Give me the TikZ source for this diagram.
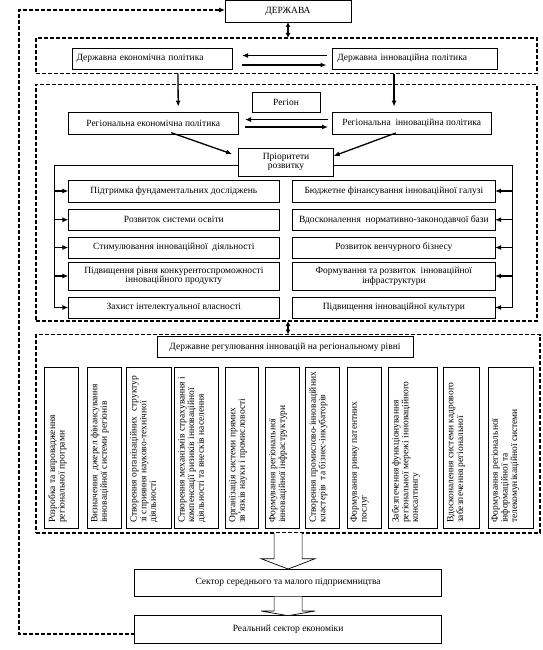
\documentclass[tikz,border=0pt]{standalone}
\usepackage{fontspec}
\setmainfont{Liberation Serif}
\usetikzlibrary{arrows.meta,calc}
\newcommand\fs{\fontsize{9.5}{9.6}\selectfont}
\begin{document}
\begin{tikzpicture}[x=1pt,y=-1pt,
  font=\fs,
  box/.style={draw, line width=0.7pt, fill=white, outer sep=0pt, inner sep=0pt, anchor=north west, align=center},
  dbox/.style={draw, line width=1.1pt, dash pattern=on 4pt off 2pt, outer sep=0pt, inner sep=0pt, anchor=north west},
  arr/.style={line width=1.3pt, -{Latex[length=6pt,width=5pt]}},
  darr/.style={line width=1.3pt, {Latex[length=5pt,width=5pt]}-{Latex[length=5pt,width=5pt]}},
  dline/.style={line width=1.1pt, dash pattern=on 4pt off 2pt},
  thinl/.style={line width=0.9pt},
  hollow/.style={draw, line width=0.7pt, fill=white},
  vtext/.style={rotate=90, anchor=north west, inner sep=0pt, align=left, font=\fs}
]
\useasboundingbox (0,0) rectangle (542,650);

% top
\node[box, minimum width=126pt, minimum height=21.5pt] (derzh) at (225,0.5) {ДЕРЖАВА};
\node[dbox, minimum width=501pt, minimum height=35.6pt] (b1) at (36,38) {};
\node[box, minimum width=160pt, minimum height=21pt, text width=151pt, align=left] (de) at (72,48) {Державна економічна політика};
\node[box, minimum width=164.5pt, minimum height=21pt, text width=155pt, align=left] (di) at (332.5,48) {Державна інноваційна політика};
\draw[arr] ($(di.west)+(-6,-3)$) -- ($(de.east)+(10,-3)$);
\draw[arr] ($(de.east)+(10,6.5)$) -- ($(di.west)+(-6,6.5)$);
\draw[darr] (derzh.south) -- (derzh.south |- b1.north);

% region block
\node[dbox, minimum width=501pt, minimum height=236.3pt] (b2) at (36,84.7) {};
\node[box, minimum width=68pt, minimum height=20pt] (reg) at (252,92) {Регіон};
\node[box, minimum width=169.6pt, minimum height=21.4pt] (re) at (68.4,112.6) {Регіональна економічна політика};
\node[box, minimum width=158.5pt, minimum height=21.4pt] (ri) at (332.5,112.6) {Регіональна\ \ інноваційна політика};
\draw[arr] ($(de.south |- b1.south)+(26,0)$) -- ($(re.north)+(25,-6)$);
\draw[arr] ($(di.south |- b1.south)+(-20.7,0)$) -- ($(ri.north)+(-17.7,-6)$);
\draw[arr] ($(ri.west)+(-4.5,-3.7)$) -- ($(re.east)+(7,-3.7)$);
\draw[arr] ($(re.east)+(7,3.7)$) -- ($(ri.west)+(-4.5,3.7)$);

\node[box, minimum width=95.1pt, minimum height=28pt] (pr) at (238.5,148) {Пріоритети\\розвитку};
\draw[arr] ($(re.south)+(18,-1.3)$) -- ($(pr.west)+(-6.5,-8)$);
\draw[arr] ($(ri.south)+(-16,-1)$) -- ($(pr.east)+(0,-6)$);

\node[box, minimum width=210.9pt, minimum height=22pt] (L1) at (68.4,180) {Підтримка фундаментальних досліджень};
\node[box, minimum width=202.2pt, minimum height=22pt] (R1) at (292.8,180) {Бюджетне фінансування інноваційної галузі};
\node[box, minimum width=210.9pt, minimum height=21.5pt] (L2) at (68.4,209) {Розвиток системи освіти};
\node[box, minimum width=202.2pt, minimum height=21.5pt] (R2) at (292.8,209) {Вдосконалення\ \ нормативно-законодавчої бази};
\node[box, minimum width=210.9pt, minimum height=21pt] (L3) at (68.4,237) {Стимулювання інноваційної\ \ діяльності};
\node[box, minimum width=202.2pt, minimum height=21pt] (R3) at (292.8,237) {Розвиток венчурного бізнесу};
\node[box, minimum width=210.9pt, minimum height=28pt] (L4) at (68.4,262) {Підвищення рівня конкурентоспроможності\\інноваційного продукту};
\node[box, minimum width=202.2pt, minimum height=28pt] (R4) at (292.8,262) {Формування та розвиток\ \ інноваційної\\інфраструктури};
\node[box, minimum width=210.9pt, minimum height=21pt] (L5) at (68.4,297) {Захист інтелектуальної власності};
\node[box, minimum width=202.2pt, minimum height=21pt] (R5) at (292.8,297) {Підвищення інноваційної культури};

\coordinate (cl) at (54.6,165);
\coordinate (cr) at (512,165);
\draw[thinl] (L5.west -| cl) -- (cl) -- (pr.west |- cl);
\draw[thinl] (pr.east |- cr) -- (cr) -- (R5.east -| cr);
\foreach \n in {L1,L2,L3,L4,L5} \draw[arr] (\n.west -| cl) -- (\n.west);
\foreach \n in {R1,R2,R3,R4,R5} \draw[arr] (\n.east -| cr) -- (\n.east);

% regulation block
\node[dbox, minimum width=504pt, minimum height=198.5pt] (b3) at (36,334.5) {};
\draw[darr] (b2.south -| derzh.south) -- (b3.north -| derzh.south);
\node[box, minimum width=256pt, minimum height=20.7pt] (gov) at (157,336.6) {Державне регулювання інновацій на регіональному рівні};

\foreach \n/\x/\w in {v1/44.5/34, v2/87/34.5, v3/126.5/45.3, v4/174.6/43.9, v5/225.4/33.2, v6/265.5/33.8, v7/305.6/33.8, v8/347/34.3, v9/388.2/48.8, v10/443.5/35.5, v11/488/45}
  \node[box, minimum width=\w pt, minimum height=161pt] (\n) at (\x,367) {};

\node[vtext] (v1t) at ($(v1.south west)+(3.5,-5)$) {Розробка та впровадження\\регіональної програми};
\node[vtext] (v2t) at ($(v2.south west)+(3.5,-5)$) {Визначення\ \ джерел фінансування\\інноваційної системи регіонів};
\node[vtext] (v3t) at ($(v3.south west)+(3.5,-5)$) {Створення організаційних\ \ структур\\зі сприяння науково-технічної\\діяльності};
\node[vtext] (v4t) at ($(v4.south west)+(3.5,-5)$) {Створення механізмів страхування і\\компенсації ризиків інноваційної\\діяльності та внесків населення};
\node[vtext] (v5t) at ($(v5.south west)+(3.5,-5)$) {Організація системи прямих\\зв'язків науки і промисловості};
\node[vtext] (v6t) at ($(v6.south west)+(3.5,-5)$) {Формування регіональної\\інноваційної інфраструктури};
\node[vtext] (v7t) at ($(v7.south west)+(3.5,-5)$) {Створення промислово-інноваційних\\кластерів\ \ та бізнес-інкубаторів};
\node[vtext] (v8t) at ($(v8.south west)+(3.5,-5)$) {Формування ринку патентних\\послуг};
\node[vtext] (v9t) at ($(v9.south west)+(3.5,-5)$) {Забезпечення функціонування\\регіональної мережі інноваційного\\консалтингу};
\node[vtext] (v10t) at ($(v10.south west)+(3.5,-5)$) {Вдосконалення системи кадрового\\забезпечення регіональної};
\node[vtext] (v11t) at ($(v11.south west)+(3.5,-5)$) {Формування регіональної\\інформаційної та\\телекомунікаційної системи};

% bottom
\node[box, minimum width=306.6pt, minimum height=27.7pt] (sec) at (134.8,569) {Сектор середнього та малого підприємництва};
\node[box, minimum width=306.6pt, minimum height=28pt] (real) at (134.8,615.7) {Реальний сектор економіки};

\coordinate (t1) at (b3.south -| sec.north);
\draw[hollow] ($(t1)+(-14,0)$) -- ($(t1)+(-14,25.7)$) -- ($(t1)+(-27,25.7)$) -- (sec.north) -- ($(t1)+(27,25.7)$) -- ($(t1)+(14,25.7)$) -- ($(t1)+(14,0)$);
\coordinate (t2) at (sec.south);
\draw[hollow] ($(t2)+(-14,0)$) -- ($(t2)+(-14,14.3)$) -- ($(t2)+(-27,14.3)$) -- (real.north) -- ($(t2)+(27,14.3)$) -- ($(t2)+(14,14.3)$) -- ($(t2)+(14,0)$);

\coordinate (fb1) at (19,634);
\coordinate (fb2) at (19,10);
\draw[dline, -{Latex[length=6pt,width=5pt]}] ($(real.west)+(0,4.3)$) -- (fb1) -- (fb2) -- (fb2 -| derzh.west);
\end{tikzpicture}
\end{document}
